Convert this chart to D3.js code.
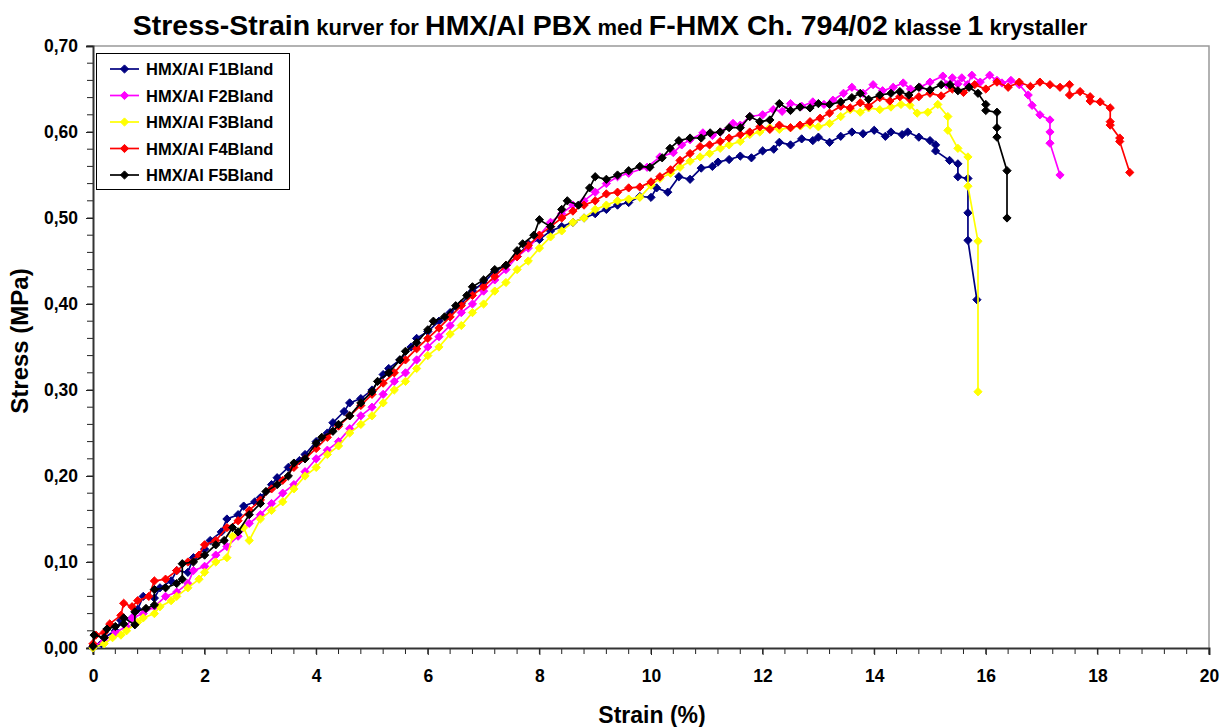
<!DOCTYPE html>
<html>
<head>
<meta charset="utf-8">
<script src="https://cdn.jsdelivr.net/npm/d3@7"></script>
<style>
  body { margin: 0; background: #fff; }
  text { font-family: Arial, "Liberation Sans", sans-serif; font-weight: bold; }
</style>
</head>
<body>
<svg id="chart" width="1223" height="727"></svg>
<script>
// [strain %, stress MPa]
var f1 = [[0,0.0],[0.15,0.005],[0.2,0.012],[0.4,0.02],[0.5,0.032],[0.7,0.035],[0.8,0.045],[0.9,0.06],[1.1,0.058],[1.2,0.07],[1.4,0.078],[1.5,0.09],[1.7,0.088],[1.8,0.105],[2.0,0.115],[2.1,0.125],[2.3,0.135],[2.4,0.15],[2.6,0.155],[2.7,0.165],[2.9,0.17],[3.0,0.175],[3.2,0.19],[3.3,0.198],[3.5,0.21],[3.7,0.218],[3.8,0.225],[4.0,0.24],[4.2,0.25],[4.3,0.262],[4.5,0.275],[4.6,0.285],[4.8,0.29],[5.0,0.3],[5.2,0.318],[5.3,0.325],[5.5,0.335],[5.7,0.35],[5.8,0.36],[6.0,0.368],[6.2,0.38],[6.4,0.39],[6.6,0.4],[6.8,0.415],[7.0,0.425],[7.2,0.438],[7.4,0.445],[7.6,0.455],[7.8,0.47],[8.0,0.475],[8.2,0.485],[8.4,0.49],[8.6,0.495],[8.8,0.5],[9.0,0.505],[9.2,0.51],[9.4,0.515],[9.6,0.518],[9.8,0.525],[10.0,0.524],[10.1,0.535],[10.3,0.53],[10.5,0.548],[10.7,0.545],[10.9,0.558],[11.1,0.56],[11.2,0.565],[11.4,0.568],[11.6,0.572],[11.8,0.57],[12.0,0.578],[12.2,0.58],[12.3,0.588],[12.5,0.585],[12.7,0.592],[12.9,0.59],[13.0,0.594],[13.2,0.588],[13.4,0.595],[13.6,0.6],[13.8,0.598],[14.0,0.602],[14.2,0.595],[14.3,0.6],[14.5,0.597],[14.6,0.6],[14.8,0.594],[15.0,0.59],[15.1,0.585],[15.1,0.578],[15.35,0.567],[15.5,0.563],[15.5,0.548],[15.68,0.546],[15.68,0.506],[15.68,0.474],[15.84,0.405]];

var f2 = [[0,0.002],[0.2,0.008],[0.4,0.018],[0.6,0.025],[0.7,0.035],[0.9,0.04],[1.1,0.048],[1.3,0.06],[1.5,0.065],[1.7,0.075],[1.8,0.09],[2.0,0.095],[2.2,0.108],[2.4,0.118],[2.6,0.13],[2.8,0.145],[3.0,0.155],[3.2,0.168],[3.4,0.18],[3.6,0.19],[3.8,0.205],[4.0,0.22],[4.2,0.23],[4.4,0.24],[4.6,0.255],[4.8,0.27],[5.0,0.28],[5.2,0.295],[5.4,0.31],[5.6,0.32],[5.8,0.335],[6.0,0.35],[6.2,0.362],[6.4,0.375],[6.6,0.39],[6.8,0.4],[7.0,0.415],[7.2,0.428],[7.4,0.44],[7.6,0.455],[7.8,0.465],[8.0,0.48],[8.2,0.495],[8.4,0.505],[8.6,0.515],[8.8,0.52],[9.0,0.53],[9.2,0.54],[9.4,0.548],[9.6,0.552],[9.93,0.559],[10.16,0.571],[10.4,0.576],[10.55,0.585],[10.7,0.591],[10.93,0.599],[11.1,0.596],[11.24,0.6],[11.47,0.61],[11.6,0.608],[11.77,0.618],[12.0,0.62],[12.19,0.626],[12.35,0.624],[12.5,0.633],[12.7,0.63],[12.9,0.635],[13.1,0.632],[13.26,0.637],[13.45,0.645],[13.6,0.652],[13.8,0.645],[13.98,0.655],[14.15,0.648],[14.34,0.652],[14.52,0.657],[14.65,0.65],[14.82,0.652],[15.0,0.658],[15.23,0.665],[15.3,0.655],[15.4,0.663],[15.5,0.656],[15.57,0.663],[15.67,0.655],[15.75,0.666],[15.9,0.658],[16.07,0.666],[16.2,0.66],[16.29,0.657],[16.45,0.66],[16.6,0.655],[16.76,0.643],[16.83,0.631],[16.97,0.62],[17.15,0.614],[17.15,0.6],[17.15,0.587],[17.33,0.55]];

var f3 = [[0,0.0],[0.2,0.005],[0.35,0.012],[0.5,0.015],[0.6,0.02],[0.8,0.03],[0.9,0.035],[1.1,0.04],[1.2,0.048],[1.4,0.055],[1.5,0.06],[1.7,0.07],[1.9,0.08],[2.0,0.088],[2.2,0.1],[2.4,0.105],[2.5,0.13],[2.7,0.14],[2.8,0.125],[3.0,0.15],[3.2,0.16],[3.4,0.17],[3.6,0.185],[3.8,0.2],[4.0,0.21],[4.2,0.225],[4.4,0.235],[4.6,0.25],[4.8,0.26],[5.0,0.27],[5.2,0.285],[5.4,0.3],[5.6,0.31],[5.8,0.325],[6.0,0.34],[6.2,0.35],[6.4,0.365],[6.6,0.375],[6.8,0.39],[7.0,0.4],[7.2,0.415],[7.4,0.425],[7.6,0.44],[7.8,0.45],[8.0,0.465],[8.2,0.478],[8.4,0.485],[8.6,0.495],[8.8,0.5],[9.0,0.51],[9.2,0.515],[9.4,0.52],[9.6,0.522],[9.8,0.524],[10.0,0.538],[10.16,0.546],[10.35,0.552],[10.52,0.559],[10.7,0.566],[10.88,0.571],[11.05,0.575],[11.24,0.581],[11.4,0.585],[11.6,0.589],[11.77,0.597],[11.95,0.6],[12.13,0.605],[12.3,0.603],[12.5,0.605],[12.68,0.607],[12.85,0.608],[13.0,0.606],[13.2,0.61],[13.4,0.618],[13.57,0.626],[13.75,0.623],[13.9,0.628],[14.1,0.626],[14.3,0.629],[14.48,0.632],[14.64,0.631],[14.77,0.622],[14.96,0.623],[15.14,0.632],[15.32,0.618],[15.32,0.602],[15.5,0.581],[15.68,0.571],[15.68,0.537],[15.86,0.473],[15.86,0.298]];

var f4 = [[0,0.005],[0.05,0.015],[0.2,0.018],[0.3,0.028],[0.5,0.038],[0.55,0.052],[0.7,0.048],[0.8,0.055],[1.0,0.06],[1.1,0.078],[1.3,0.08],[1.5,0.09],[1.7,0.1],[1.9,0.108],[2.0,0.12],[2.2,0.125],[2.4,0.14],[2.6,0.148],[2.8,0.16],[3.0,0.172],[3.2,0.185],[3.4,0.195],[3.6,0.21],[3.8,0.22],[4.0,0.232],[4.2,0.245],[4.4,0.258],[4.6,0.27],[4.8,0.282],[5.0,0.295],[5.2,0.308],[5.4,0.32],[5.6,0.335],[5.8,0.348],[6.0,0.36],[6.2,0.372],[6.4,0.385],[6.6,0.398],[6.8,0.41],[7.0,0.42],[7.2,0.432],[7.4,0.445],[7.6,0.455],[7.8,0.468],[8.0,0.48],[8.2,0.49],[8.4,0.5],[8.6,0.508],[8.8,0.515],[9.0,0.52],[9.2,0.528],[9.4,0.53],[9.6,0.535],[9.8,0.536],[10.0,0.542],[10.16,0.548],[10.35,0.556],[10.52,0.567],[10.7,0.575],[10.88,0.583],[11.05,0.585],[11.24,0.589],[11.4,0.593],[11.6,0.597],[11.77,0.6],[11.95,0.606],[12.13,0.603],[12.3,0.608],[12.5,0.605],[12.67,0.608],[12.85,0.612],[13.03,0.616],[13.2,0.622],[13.4,0.63],[13.57,0.628],[13.75,0.634],[13.9,0.63],[14.1,0.64],[14.28,0.636],[14.46,0.641],[14.64,0.638],[14.8,0.641],[15.0,0.645],[15.2,0.642],[15.4,0.65],[15.6,0.646],[15.8,0.655],[16.0,0.65],[16.2,0.658],[16.4,0.652],[16.6,0.658],[16.8,0.653],[16.97,0.658],[17.15,0.655],[17.33,0.652],[17.5,0.655],[17.5,0.643],[17.69,0.647],[17.87,0.641],[17.87,0.636],[18.05,0.635],[18.23,0.628],[18.23,0.612],[18.23,0.608],[18.4,0.593],[18.4,0.589],[18.58,0.553]];

var f5 = [[0,0.002],[0.02,0.015],[0.2,0.012],[0.25,0.022],[0.4,0.025],[0.55,0.028],[0.55,0.035],[0.75,0.027],[0.75,0.042],[0.95,0.046],[1.1,0.05],[1.1,0.068],[1.3,0.07],[1.5,0.075],[1.6,0.08],[1.6,0.098],[1.8,0.1],[2.0,0.108],[2.2,0.12],[2.35,0.125],[2.5,0.14],[2.6,0.135],[2.8,0.155],[3.0,0.168],[3.1,0.182],[3.3,0.19],[3.5,0.2],[3.6,0.215],[3.8,0.22],[4.0,0.238],[4.1,0.245],[4.3,0.252],[4.4,0.26],[4.6,0.27],[4.8,0.285],[5.0,0.298],[5.1,0.31],[5.3,0.32],[5.5,0.335],[5.6,0.345],[5.8,0.355],[6.0,0.37],[6.1,0.38],[6.3,0.385],[6.5,0.398],[6.7,0.41],[6.8,0.42],[7.0,0.428],[7.2,0.44],[7.4,0.445],[7.6,0.462],[7.7,0.47],[7.9,0.48],[8.0,0.498],[8.2,0.49],[8.4,0.51],[8.5,0.52],[8.7,0.515],[8.9,0.535],[9.0,0.548],[9.2,0.545],[9.4,0.55],[9.6,0.555],[9.8,0.56],[9.98,0.559],[10.2,0.57],[10.34,0.581],[10.5,0.59],[10.7,0.593],[10.9,0.593],[11.06,0.599],[11.24,0.6],[11.4,0.605],[11.6,0.605],[11.77,0.618],[11.95,0.612],[12.13,0.614],[12.3,0.633],[12.5,0.625],[12.67,0.629],[12.85,0.628],[13.0,0.633],[13.2,0.632],[13.4,0.635],[13.6,0.64],[13.75,0.645],[13.9,0.638],[14.1,0.643],[14.3,0.645],[14.46,0.647],[14.62,0.643],[14.8,0.652],[15.0,0.649],[15.2,0.655],[15.36,0.655],[15.5,0.648],[15.7,0.652],[15.86,0.645],[16.0,0.632],[16.0,0.625],[16.2,0.623],[16.2,0.605],[16.2,0.594],[16.38,0.555],[16.38,0.5]];

var seriesNames = ["HMX/Al F1Bland", "HMX/Al F2Bland", "HMX/Al F3Bland", "HMX/Al F4Bland", "HMX/Al F5Bland"];
var seriesColors = ["#000080", "#ff00ff", "#ffff00", "#ff0000", "#000000"];
var seriesData = [f1, f2, f3, f4, f5];
var xTicks = [0, 2, 4, 6, 8, 10, 12, 14, 16, 18, 20];
var yTicks = [0, 0.1, 0.2, 0.3, 0.4, 0.5, 0.6, 0.7];

var svg = d3.select("#chart"),
	plotL = 93, plotR = 1209, plotT = 46, plotB = 648,
	x = d3.scaleLinear().domain([0, 20]).range([plotL, plotR]),
	y = d3.scaleLinear().domain([0, 0.7]).range([plotB, plotT]),
	fmt = function(v) { return d3.format(".2f")(v).replace(".", ","); };

// plot frame (top + right in gray)
svg.append("path")
	.attr("d", "M" + plotL + "," + plotT + "H" + plotR + "V" + plotB)
	.attr("fill", "none").attr("stroke", "#999").attr("stroke-width", 1.5);

// minor ticks
svg.append("g").selectAll("line").data(d3.range(0, 20.01, 0.4)).join("line")
	.attr("x1", d => x(d)).attr("x2", d => x(d))
	.attr("y1", plotB).attr("y2", plotB + 6)
	.attr("stroke", "#222").attr("stroke-width", 1);
svg.append("g").selectAll("line").data(d3.range(0, 0.701, 0.02)).join("line")
	.attr("x1", plotL - 6).attr("x2", plotL)
	.attr("y1", d => y(d)).attr("y2", d => y(d))
	.attr("stroke", "#222").attr("stroke-width", 1);

var xAxis = svg.append("g").attr("transform", "translate(0," + plotB + ")")
	.call(d3.axisBottom(x).tickValues(xTicks).tickSize(7).tickPadding(15).tickFormat(d3.format("d")));
var yAxis = svg.append("g").attr("transform", "translate(" + plotL + ",0)")
	.call(d3.axisLeft(y).tickValues(yTicks).tickSize(7).tickPadding(8).tickFormat(fmt));

[xAxis, yAxis].forEach(function(a) {
	a.select(".domain").attr("stroke", "#333").attr("stroke-width", 2);
	a.selectAll(".tick line").attr("stroke", "#222");
	a.selectAll("text").attr("font-size", 17.5).attr("font-weight", "bold")
		.attr("font-family", "Arial, 'Liberation Sans', sans-serif").attr("fill", "#000");
});

// square diamond like the spreadsheet marker
var squareDiamond = {
	draw: function(ctx, size) {
		var r = Math.sqrt(size / 2);
		ctx.moveTo(0, -r); ctx.lineTo(r, 0); ctx.lineTo(0, r); ctx.lineTo(-r, 0); ctx.closePath();
	}
};
var line = d3.line().x(d => x(d[0])).y(d => y(d[1]));
var diamond = d3.symbol().type(squareDiamond).size(34);

seriesData.forEach(function(data, i) {
	var g = svg.append("g");
	g.append("path").datum(data)
		.attr("d", line).attr("fill", "none")
		.attr("stroke", seriesColors[i]).attr("stroke-width", 1.7);
	g.selectAll("path.m").data(data).join("path").attr("class", "m")
		.attr("d", diamond)
		.attr("transform", d => "translate(" + x(d[0]) + "," + y(d[1]) + ")")
		.attr("fill", seriesColors[i]).attr("stroke", seriesColors[i]).attr("stroke-width", 1);
});

// legend
var legend = svg.append("g");
legend.append("rect").attr("x", 96.5).attr("y", 53.5).attr("width", 193).attr("height", 136)
	.attr("fill", "#fff").attr("stroke", "#000").attr("stroke-width", 1);
seriesNames.forEach(function(name, i) {
	var ly = 69 + i * 26.5;
	legend.append("line").attr("x1", 110).attr("x2", 139).attr("y1", ly).attr("y2", ly)
		.attr("stroke", seriesColors[i]).attr("stroke-width", 1.7);
	legend.append("path").attr("d", diamond).attr("transform", "translate(124.5," + ly + ")")
		.attr("fill", seriesColors[i]).attr("stroke", seriesColors[i]).attr("stroke-width", 1);
	legend.append("text").attr("x", 146).attr("y", ly + 6).attr("font-size", 16.5).text(name);
});

// titles
var title = svg.append("text").attr("x", 610).attr("y", 35).attr("text-anchor", "middle");
[["Stress-Strain", 28.5], [" kurver for ", 22], ["HMX/Al PBX", 28.5], [" med ", 22],
 ["F-HMX Ch. 794/02", 28.5], [" klasse ", 22], ["1", 28.5], [" krystaller", 22]].forEach(function(p) {
	title.append("tspan").attr("font-size", p[1]).text(p[0]);
});

svg.append("text").attr("x", 652).attr("y", 723).attr("text-anchor", "middle")
	.attr("font-size", 23).text("Strain (%)");
svg.append("text").attr("transform", "translate(28,341) rotate(-90)").attr("text-anchor", "middle")
	.attr("font-size", 24).text("Stress (MPa)");
</script>
</body>
</html>
